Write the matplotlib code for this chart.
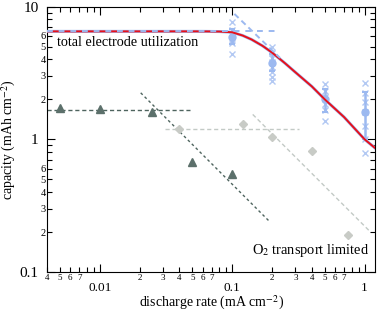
import matplotlib
matplotlib.use("Agg")
import matplotlib.pyplot as plt
from matplotlib.ticker import FixedLocator, FixedFormatter

plt.rcParams['font.family'] = ['Liberation Serif', 'DejaVu Serif']
plt.rcParams['mathtext.fontset'] = 'stix'

# ---- data ----
tri_x = [0.005, 0.01, 0.025, 0.05, 0.1]
tri_y = [1.71, 1.68, 1.60, 0.67, 0.55]
tri_flat_x = [0.004, 0.048]
tri_flat_y = [1.65, 1.65]
tri_diag_x = [0.0204, 0.188]
tri_diag_y = [2.24, 0.245]

dia_x = [0.04, 0.12, 0.2, 0.4, 0.75]
dia_y = [1.2, 1.31, 1.05, 0.82, 0.19]
dia_flat_x = [0.031, 0.32]
dia_flat_y = [1.2, 1.2]
dia_diag_x = [0.143, 1.1]
dia_diag_y = [1.54, 0.202]

blue_flat_x = [0.004, 0.22]
blue_flat_y = [6.5, 6.5]
blue_diag_x = [0.104, 0.23]
blue_diag_y = [8.8, 4.1]

rate = [0.1, 0.2, 0.5, 1.0]
mean_cap = [5.9, 3.77, 2.0, 1.6]
err_lo = [0.7, 0.5, 0.4, 0.6]
err_hi = [0.9, 0.6, 0.4, 0.67]
ind_x = [0.1] * 6 + [0.2] * 8 + [0.5] * 6 + [1.0] * 7
ind_y = [7.7, 6.6, 6.2, 5.6, 5.3, 4.4,
         5.0, 4.5, 4.1, 3.8, 3.5, 3.2, 2.95, 2.75,
         2.6, 2.3, 2.1, 1.85, 1.65, 1.38,
         2.65, 2.25, 1.9, 1.6, 1.25, 1.0, 0.79]

model_x = [0.004, 0.06, 0.08, 0.1, 0.12, 0.14, 0.17, 0.2, 0.25, 0.3, 0.4, 0.5, 0.7, 1.0, 1.2]
model_y = [6.5, 6.5, 6.48, 6.4, 6.05, 5.65, 5.05, 4.5, 3.75, 3.2, 2.5, 2.0, 1.47, 1.0, 0.86]

y_major = [0.1, 1, 10]
y_major_lab = ['0.1', '1', '10']
y_minor = [m * d for d in (0.1, 1) for m in range(2, 10)]
y_minor_lab = [str(m) if m <= 6 else '' for d in (0.1, 1) for m in range(2, 10)]
x_major = [0.01, 0.1, 1]
x_major_lab = ['0.01', '0.1', '1']
x_minor = [m * d for d, ms in ((0.001, range(4, 10)), (0.01, range(2, 10)), (0.1, range(2, 10))) for m in ms]
x_minor_lab = [str(m) if m <= 7 else '' for d, ms in ((0.001, range(4, 10)), (0.01, range(2, 10)), (0.1, range(2, 10))) for m in ms]

dark = '#5c706b'
dark_line = '#4e645e'
gray = '#c8cbc6'
gray_line = '#c3cac6'
blue = '#9cb9f0'
blue_x = '#b3c9f3'
red = '#e8101a'

fig = plt.figure(figsize=(3.78, 3.11), dpi=100)
ax = fig.add_axes([0.1243, 0.125, 0.868, 0.854])
ax.set_xscale('log')
ax.set_yscale('log')

# triangles
ax.plot(tri_flat_x, tri_flat_y, ls=(0, (3, 2)), color=dark_line, lw=1.0)
ax.plot(tri_diag_x, tri_diag_y, ls=(0, (2, 2)), color=dark_line, lw=1.0)
ax.plot(tri_x, tri_y, '^', color=dark, ms=5.5, mec=dark)

# diamonds
ax.plot(dia_flat_x, dia_flat_y, ls=(0, (3, 2)), color=gray_line, lw=1.0)
ax.plot(dia_diag_x, dia_diag_y, ls=(0, (3, 2)), color=gray_line, lw=1.0)
ax.plot(dia_x, dia_y, 'D', color=gray, ms=4.5, mec=gray)

# blue data
ax.plot(ind_x, ind_y, 'x', color=blue_x, ms=5, mew=1.0, zorder=3)
ax.errorbar(rate, mean_cap, yerr=[err_lo, err_hi], fmt='o', color=blue, ms=5,
            elinewidth=1.8, capsize=2.5, capthick=1.5, zorder=4)

# model curve
ax.plot(model_x, model_y, color=blue, lw=2.2, zorder=4)
ax.plot(model_x, model_y, color=red, lw=1.4, zorder=5)
ax.plot(blue_flat_x, blue_flat_y, ls=(0, (3, 3)), color=blue, lw=1.4, zorder=6)
ax.plot(blue_diag_x, blue_diag_y, ls=(0, (3, 2)), color=blue, lw=1.4, zorder=6)

ax.set_xlim(0.004, 1.2)
ax.set_ylim(0.1, 10)

ax.xaxis.set_major_locator(FixedLocator(x_major))
ax.xaxis.set_major_formatter(FixedFormatter(x_major_lab))
ax.xaxis.set_minor_locator(FixedLocator(x_minor))
ax.xaxis.set_minor_formatter(FixedFormatter(x_minor_lab))
ax.yaxis.set_major_locator(FixedLocator(y_major))
ax.yaxis.set_major_formatter(FixedFormatter(y_major_lab))
ax.yaxis.set_minor_locator(FixedLocator(y_minor))
ax.yaxis.set_minor_formatter(FixedFormatter(y_minor_lab))

ax.tick_params(which='both', direction='in', top=True, right=True, width=0.8)
ax.tick_params(which='major', length=6)
ax.tick_params(which='minor', length=3.5)
ax.tick_params(axis='x', which='major', labelsize=9.5, pad=7)
ax.tick_params(axis='x', which='minor', labelsize=6.5, pad=1.5)
ax.tick_params(axis='y', which='major', labelsize=11, pad=6)
ax.tick_params(axis='y', which='minor', labelsize=7.5, pad=1)
for s in ax.spines.values():
    s.set_linewidth(0.8)

ax.set_xlabel('discharge rate (mA cm$^{-2}$)', fontsize=10, labelpad=0)
ax.set_ylabel('capacity (mAh cm$^{-2}$)', fontsize=10, labelpad=1)

ax.text(0.03, 0.865, 'total electrode utilization', transform=ax.transAxes,
        fontsize=10.3, va='center', ha='left')
ax.text(0.98, 0.08, 'O$_2$ transport limited', transform=ax.transAxes,
        fontsize=10.4, va='center', ha='right')

fig.savefig('out.png', dpi=100)
